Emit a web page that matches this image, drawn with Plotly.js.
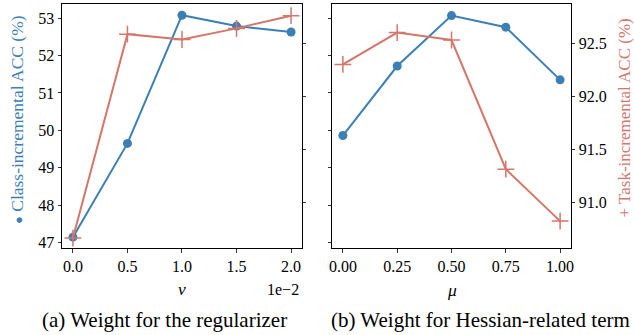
<!DOCTYPE html>
<html>
<head>
<meta charset="utf-8">
<script src="https://cdn.plot.ly/plotly-3.0.1.min.js"></script>
<style>html,body{margin:0;padding:0;background:#fff;}#chart{width:634px;height:335px;}</style>
</head>
<body>
<div id="chart"></div>
<script>
// Panel (a): weight for the regularizer (nu, x1e-2)
const nuValues = [0.0, 0.5, 1.0, 1.5, 2.0];
const classAccNu = [47.14, 49.65, 53.08, 52.79, 52.63];
const taskAccNu = [90.66, 92.585, 92.535, 92.64, 92.76];
// Panel (b): weight for Hessian-related term (mu)
const muValues = [0.0, 0.25, 0.5, 0.75, 1.0];
const classAccMu = [49.86, 51.72, 53.07, 52.76, 51.35];
const taskAccMu = [92.30, 92.60, 92.53, 91.31, 90.82];
// Tick labels
const nuTicks = ["0.0", "0.5", "1.0", "1.5", "2.0"];
const muTicks = ["0.00", "0.25", "0.50", "0.75", "1.00"];
const classTicks = [47, 48, 49, 50, 51, 52, 53];
const taskTicks = [91.0, 91.5, 92.0, 92.5];
const taskTickLabels = ["91.0", "91.5", "92.0", "92.5"];

const BLUE = '#3b7fb4';
const RED = '#d5766a';
const FONT = 'Liberation Serif';

const blueStyle = {mode: 'lines+markers', line: {color: BLUE, width: 2}, marker: {color: BLUE, size: 9, symbol: 'circle'}};
const redStyle = {mode: 'lines+markers', line: {color: RED, width: 2}, marker: {color: RED, size: 12, symbol: 'cross-thin', line: {color: RED, width: 1.5}}};

const traces = [
  Object.assign({x: nuValues, y: classAccNu, xaxis: 'x', yaxis: 'y'}, blueStyle),
  Object.assign({x: nuValues, y: taskAccNu, xaxis: 'x', yaxis: 'y2'}, redStyle),
  Object.assign({x: muValues, y: classAccMu, xaxis: 'x2', yaxis: 'y3'}, blueStyle),
  Object.assign({x: muValues, y: taskAccMu, xaxis: 'x2', yaxis: 'y4'}, redStyle)
];

const classRange = [46.85, 53.38];
const taskRange = [90.566, 92.87];
const yDom = [0.2597, 0.988];

const axBase = {showline: true, linecolor: '#000', linewidth: 1, ticks: 'outside', ticklen: 3.5, tickwidth: 0.8, tickcolor: '#000', showgrid: false, zeroline: false, tickfont: {family: FONT, size: 16, color: '#000'}};

const layout = {
  width: 634, height: 335,
  margin: {l: 0, r: 0, t: 0, b: 0},
  paper_bgcolor: '#fff', plot_bgcolor: '#fff',
  showlegend: false,
  font: {family: FONT, color: '#000'},
  xaxis: Object.assign({}, axBase, {domain: [0.0978, 0.4763], range: [-0.1, 2.1], tickvals: nuValues, ticktext: nuTicks, anchor: 'y', mirror: true}),
  xaxis2: Object.assign({}, axBase, {domain: [0.5237, 0.9006], range: [-0.05, 1.05], tickvals: muValues, ticktext: muTicks, anchor: 'y3', mirror: true}),
  yaxis: Object.assign({}, axBase, {domain: yDom, range: classRange, tickvals: classTicks, anchor: 'x', side: 'left'}),
  yaxis2: Object.assign({}, axBase, {domain: yDom, range: taskRange, tickvals: taskTicks, showticklabels: false, overlaying: 'y', anchor: 'x', side: 'right'}),
  yaxis3: Object.assign({}, axBase, {domain: yDom, range: classRange, tickvals: classTicks, showticklabels: false, anchor: 'x2', side: 'left'}),
  yaxis4: Object.assign({}, axBase, {domain: yDom, range: taskRange, tickvals: taskTicks, ticktext: taskTickLabels, overlaying: 'y3', anchor: 'x2', side: 'right'}),
  annotations: [
    {xref: 'paper', yref: 'paper', x: 17/634, y: 1 - 120/335, text: '<span style="font-size:13px">●</span> Class-incremental ACC (%)', textangle: -90, showarrow: false, font: {family: FONT, size: 17.5, color: BLUE}, xanchor: 'center', yanchor: 'middle'},
    {xref: 'paper', yref: 'paper', x: 624.5/634, y: 1 - 118/335, text: '+ Task-incremental ACC (%)', textangle: -90, showarrow: false, font: {family: FONT, size: 17, color: RED}, xanchor: 'center', yanchor: 'middle'},
    {xref: 'paper', yref: 'paper', x: 182/634, y: 1 - 289/335, text: '<i>ν</i>', showarrow: false, font: {family: FONT, size: 17.5, color: '#000'}, xanchor: 'center', yanchor: 'middle'},
    {xref: 'paper', yref: 'paper', x: 301/634, y: 1 - 289/335, text: '1e−2', showarrow: false, font: {family: FONT, size: 16, color: '#000'}, xanchor: 'right', yanchor: 'middle'},
    {xref: 'paper', yref: 'paper', x: 452/634, y: 1 - 290/335, text: '<i>μ</i>', showarrow: false, font: {family: FONT, size: 17.5, color: '#000'}, xanchor: 'center', yanchor: 'middle'},
    {xref: 'paper', yref: 'paper', x: 164/634, y: 1 - 320/335, text: '(a) Weight for the regularizer', showarrow: false, font: {family: FONT, size: 21, color: '#000'}, xanchor: 'center', yanchor: 'middle'},
    {xref: 'paper', yref: 'paper', x: 481/634, y: 1 - 320/335, text: '(b) Weight for Hessian-related term', showarrow: false, font: {family: FONT, size: 21, color: '#000'}, xanchor: 'center', yanchor: 'middle'}
  ]
};

Plotly.newPlot('chart', traces, layout, {displayModeBar: false, staticPlot: true});
</script>
</body>
</html>
